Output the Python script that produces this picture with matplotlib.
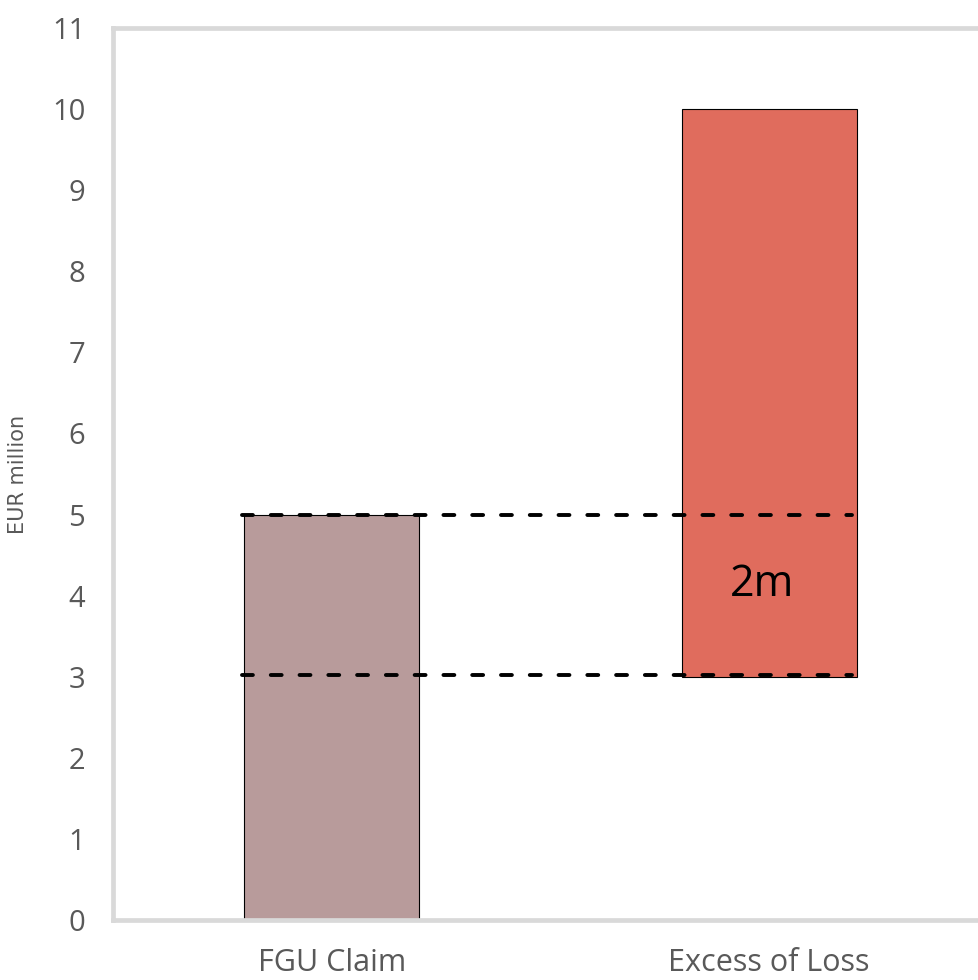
import matplotlib
matplotlib.use("Agg")
import matplotlib.pyplot as plt

plt.rcParams['font.family'] = ['Open Sans', 'DejaVu Sans']

categories = ["FGU Claim", "Excess of Loss"]
bar_bottoms = [0, 3]
bar_tops = [5, 10]
bar_colors = ["#B89B9B", "#E06C5D"]
dash_levels = [5, 3.02]
label_text = "2m"
label_value = 4.13
yticks = list(range(0, 12))

fig = plt.figure(figsize=(9.79, 9.80), dpi=100)
ax = fig.add_axes([113/979, 1 - 920/980, (988-113)/979, (920-28)/980])

x = list(range(len(categories)))
heights = [t - b for t, b in zip(bar_tops, bar_bottoms)]
ax.bar(x, heights, bottom=bar_bottoms, width=0.4, color=bar_colors,
       edgecolor="black", linewidth=0.8, zorder=2)

for lvl in dash_levels:
    ax.plot([-0.205, 1.19], [lvl, lvl], linestyle=(0, (2.8, 4.6)), color="black",
            linewidth=2.8, zorder=3, dash_capstyle="round")

ax.text(1 - 0.016, label_value, label_text, fontsize=31, ha="center", va="center",
        color="black", zorder=4)

ax.set_xlim(-0.5, 1.5)
ax.set_ylim(0, 11)
ax.set_yticks(yticks)
ax.set_yticklabels([str(v) for v in yticks])
ax.set_xticks(x)
ax.set_xticklabels(categories)
ax.tick_params(axis="both", length=0, labelcolor="#595959")
ax.tick_params(axis="y", pad=20, labelsize=21)
ax.tick_params(axis="x", pad=20, labelsize=22)
ax.set_ylabel("EUR million", fontsize=15, color="#595959", family=["DejaVu Sans"])
ax.yaxis.set_label_coords((28 - 113) / 875, 0.5)

for side in ["left", "bottom", "top"]:
    ax.spines[side].set_color("#D9D9D9")
    ax.spines[side].set_linewidth(3.4)
ax.spines["right"].set_visible(False)

fig.savefig("out.png", dpi=100, facecolor="white")
